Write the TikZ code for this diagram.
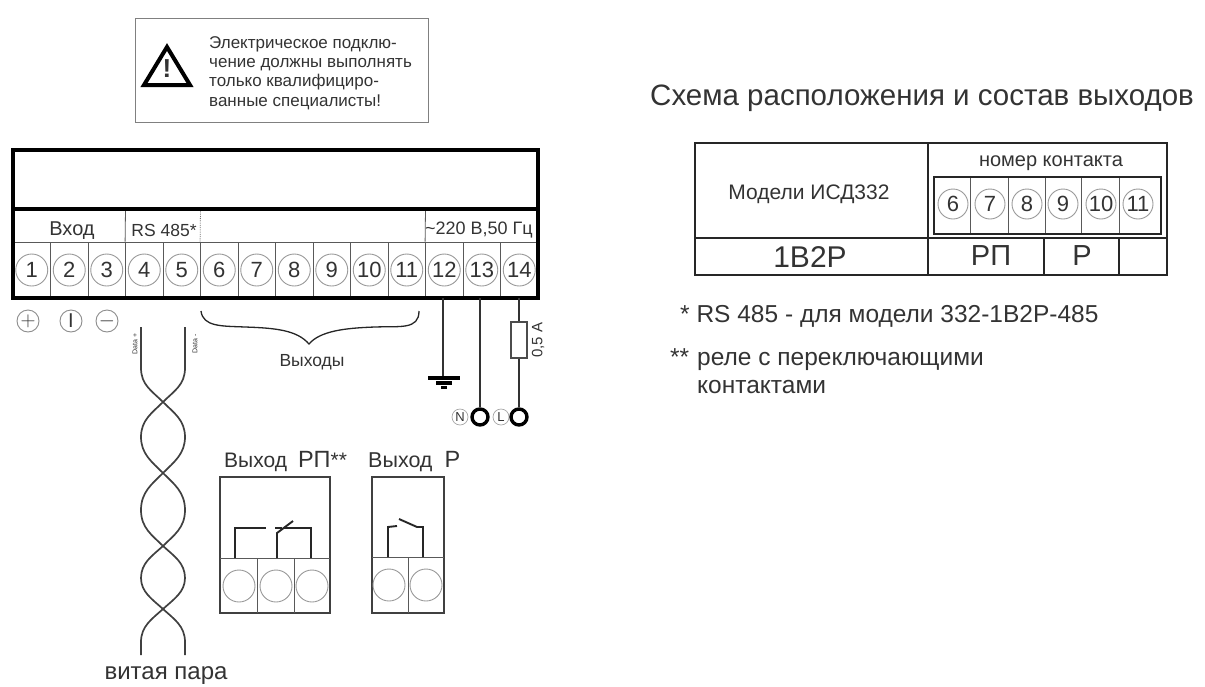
\documentclass[tikz,border=0pt]{standalone}
\usepackage{fontspec}
\setmainfont{Liberation Sans}
\usetikzlibrary{arrows,shapes,positioning,calc}

\newcommand{\fsz}[1]{\fontsize{#1}{#1}\selectfont}

\begin{document}
\begin{tikzpicture}[x=1pt,y=-1pt,
	ink/.style={text=black!80},
	cell/.style={draw=black!65,line width=0.8pt,minimum width=37.5pt,minimum height=56pt,inner sep=0pt},
	term/.style={circle,draw=black!40,line width=0.9pt,minimum size=32pt,inner sep=0pt,ink,font=\fsz{22}},
	polarity/.style={circle,draw=black!45,line width=0.9pt,minimum size=22pt,inner sep=0pt,ink,font=\fsz{20}},
	wire/.style={draw=black!80,line width=1.6pt},
	contact/.style={draw=black!85,line width=1.9pt},
	pair/.style={draw=black!75,line width=1.7pt},
	ring/.style={circle,draw=black,line width=3.4pt,minimum size=16pt,inner sep=0pt},
	letter/.style={circle,draw=black!35,line width=0.7pt,minimum size=16pt,inner sep=0pt,ink,font=\fsz{13}},
	relaybox/.style={draw=black!75,line width=2pt},
	tableline/.style={draw=black!85,line width=1.8pt},
	thinline/.style={draw=black!65,line width=0.8pt},
	lbl/.style={ink,inner sep=0pt}]
	\useasboundingbox (0,0) rectangle (1205,686);

	% warning
	\draw[draw=black!50,line width=1pt] (135,18) rectangle (428,122);
	\draw[line width=4pt,line join=miter] (167,47) -- (190,85) -- (144,85) -- cycle;
	\node[lbl,font=\fsz{26}\bfseries] at (167,69) (excl) {!};
	\node[lbl,anchor=west,align=left,font=\fsz{17}] at (209,73) (warn) {Электрическое подклю-\\[2.3pt]чение должны выполнять\\[2.3pt]только квалифициро-\\[2.3pt]ванные специалисты!};

	% terminal block
	\node[lbl,font=\fsz{20}] at (72,231) (inlabel) {Вход};
	\node[lbl,font=\fsz{17.5}] at (164,230) (rslabel) {RS 485*};
	\node[lbl,font=\fsz{18}] at (479,230) (mainslabel) {\textasciitilde220 В,50 Гц};

	\node[cell] at (31.75,270) (c1) {};
	\node[cell] at (69.25,270) (c2) {};
	\node[cell] at (106.75,270) (c3) {};
	\node[cell] at (144.25,270) (c4) {};
	\node[cell] at (181.75,270) (c5) {};
	\node[cell] at (219.25,270) (c6) {};
	\node[cell] at (256.75,270) (c7) {};
	\node[cell] at (294.25,270) (c8) {};
	\node[cell] at (331.75,270) (c9) {};
	\node[cell] at (369.25,270) (c10) {};
	\node[cell] at (406.75,270) (c11) {};
	\node[cell] at (444.25,270) (c12) {};
	\node[cell] at (481.75,270) (c13) {};
	\node[cell] at (519.25,270) (c14) {};

	\node[term] at (c1) (t1) {1};
	\node[term] at (c2) (t2) {2};
	\node[term] at (c3) (t3) {3};
	\node[term] at (c4) (t4) {4};
	\node[term] at (c5) (t5) {5};
	\node[term] at (c6) (t6) {6};
	\node[term] at (c7) (t7) {7};
	\node[term] at (c8) (t8) {8};
	\node[term] at (c9) (t9) {9};
	\node[term] at (c10) (t10) {10};
	\node[term] at (c11) (t11) {11};
	\node[term] at (c12) (t12) {12};
	\node[term] at (c13) (t13) {13};
	\node[term] at (c14) (t14) {14};

	\draw[thinline] (125.5,209) -- (c4.north west);
	\draw[draw=black!55,line width=0.8pt,densely dotted] (200.5,209) -- (c6.north west);
	\draw[thinline] (425.5,209) -- (c12.north west);
	\draw[line width=3.6pt] (13,209) -- (538,209);
	\draw[line width=3.8pt] (13,150) rectangle (538,298);

	\node[polarity] at (28,321) (plus) {$+$};
	\node[polarity] at (71,321) (one) {I};
	\node[polarity] at (107,321) (minus) {$-$};

	% outputs brace
	\draw[draw=black!85,line width=1.3pt] (201,311) .. controls (203,327) and (222,326) .. (245,327) .. controls (275,328) and (297,330) .. (309,344) .. controls (320,331) and (345,328) .. (375,327) .. controls (400,326) and (419,330) .. (419,311);
	\node[lbl,font=\fsz{17.5}] at (312,362) (outlabel) {Выходы};

	% mains wires
	\coordinate (gnd) at (443,377);
	\draw[wire] (c12.south -| gnd) -- (gnd);
	\draw[line width=4pt] (428,378) -- (460,378);
	\draw[line width=4pt] (436,383) -- (452,383);
	\draw[line width=3pt] (441,387) -- (447,387);

	\node[letter] at (460,417) (nmark) {N};
	\node[ring] at (480,417) (nring) {};
	\node[letter] at (501,417) (lmark) {L};
	\node[ring] at (519,417) (lring) {};
	\draw[wire] (c13.south -| nring) -- (nring);
	\node[draw=black!70,line width=1.4pt,minimum width=16pt,minimum height=36pt,inner sep=0pt] at (519,340) (fuse) {};
	\draw[wire] (c14.south -| fuse) -- (fuse);
	\draw[wire] (fuse) -- (lring);
	\node[lbl,rotate=90,font=\fsz{15}] at (538,340) (fuselabel) {0,5 А};

	% twisted pair
	\node[lbl,rotate=90,font=\fsz{7}] at (135,344) (dplus) {Data +};
	\node[lbl,rotate=90,font=\fsz{7}] at (195,344) (dminus) {Data -};
	\draw[pair] (141,327) -- (141,368) .. controls (141,385) and (152,391) .. (163,402) .. controls (174,413) and (185,420) .. (185,437) .. controls (185,454) and (174,462) .. (163,473) .. controls (152,484) and (141,492) .. (141,510) .. controls (141,528) and (152,535) .. (163,546) .. controls (174,556) and (185,563) .. (185,578) .. controls (185,592) and (174,599) .. (163,609) .. controls (152,619) and (141,626) .. (141,642) -- (141,655);
	\draw[pair] (185,327) -- (185,368) .. controls (185,385) and (174,391) .. (163,402) .. controls (152,413) and (141,420) .. (141,437) .. controls (141,454) and (152,462) .. (163,473) .. controls (174,484) and (185,492) .. (185,510) .. controls (185,528) and (174,535) .. (163,546) .. controls (152,556) and (141,563) .. (141,578) .. controls (141,592) and (152,599) .. (163,609) .. controls (174,619) and (185,626) .. (185,642) -- (185,655);
	\node[lbl,anchor=base,font=\fsz{24}] at (166,679) (twisted) {витая пара};

	% relay outputs
	\node[lbl,anchor=base west,font=\fsz{21}] at (224,467) (rplabel) {Выход\hspace{11pt}{\fsz{23.5}РП}**};
	\node[lbl,anchor=base west,font=\fsz{21.5}] at (368,467) (rlabel) {Выход\hspace{12pt}{\fsz{23.5}Р}};

	\draw[relaybox] (220,477) rectangle (330,613);
	\draw[thinline] (220,558) -- (330,558);
	\draw[thinline] (257,558) -- (257,613);
	\draw[thinline] (294,558) -- (294,613);
	\node[term] at (239,586) (rp1) {};
	\node[term] at (276,586) (rp2) {};
	\node[term] at (312,586) (rp3) {};
	\draw[contact] (235,558) -- (235,528) -- (266,528);
	\draw[contact] (277,558) -- (277,533) -- (293,521);
	\draw[contact] (275,528) -- (282,528);
	\draw[contact] (284,528) -- (311,528) -- (311,558);

	\draw[relaybox] (372,477) rectangle (444,613);
	\draw[thinline] (372,557) -- (444,557);
	\draw[thinline] (408,557) -- (408,613);
	\node[term] at (389,585) (r1) {};
	\node[term] at (426,585) (r2) {};
	\draw[contact] (388,557) -- (388,527) -- (397,526);
	\draw[contact] (399,519) -- (417,527) -- (423,527) -- (423,557);

	% right side
	\node[lbl,anchor=base west,font=\fsz{29.5}] at (650,105) (title) {Схема расположения и состав выходов};

	\draw[tableline] (695,143) rectangle (1167,275);
	\draw[tableline] (695,238) -- (1167,238);
	\draw[tableline] (928,143) -- (928,275);
	\draw[tableline] (1044,238) -- (1044,275);
	\draw[tableline] (1119,238) -- (1119,275);

	\node[lbl,font=\fsz{21}] at (809,194) (modelname) {Модели ИСД332};
	\node[lbl,font=\fsz{20}] at (1051,163) (contactnum) {номер контакта};

	\draw[thinline] (970,177) -- (970,234);
	\draw[thinline] (1008,177) -- (1008,234);
	\draw[thinline] (1045,177) -- (1045,234);
	\draw[thinline] (1081,177) -- (1081,234);
	\draw[thinline] (1119,177) -- (1119,234);
	\draw[tableline] (934,177) rectangle (1161,234);
	\node[term,minimum size=30pt] at (953,204) (p6) {6};
	\node[term,minimum size=30pt] at (990,204) (p7) {7};
	\node[term,minimum size=30pt] at (1027,204) (p8) {8};
	\node[term,minimum size=30pt] at (1063,204) (p9) {9};
	\node[term,minimum size=30pt] at (1101,204) (p10) {10};
	\node[term,minimum size=30pt] at (1138,204) (p11) {11};

	\node[lbl,font=\fsz{30}] at (810,257) (modelcode) {1В2Р};
	\node[lbl,font=\fsz{29}] at (991,256) (rpcode) {РП};
	\node[lbl,font=\fsz{29}] at (1082,256) (rcode) {Р};

	\node[lbl,anchor=base west,font=\fsz{24.5}] at (680,322) (note1) {* RS 485 - для модели 332-1В2Р-485};
	\node[lbl,anchor=base west,font=\fsz{24.5}] at (670,365) (note2star) {**};
	\node[lbl,anchor=base west,font=\fsz{24.5}] at (697,365) (note2) {реле с переключающими};
	\node[lbl,anchor=base west,font=\fsz{24.5}] at (697,393) (note3) {контактами};
\end{tikzpicture}
\end{document}
